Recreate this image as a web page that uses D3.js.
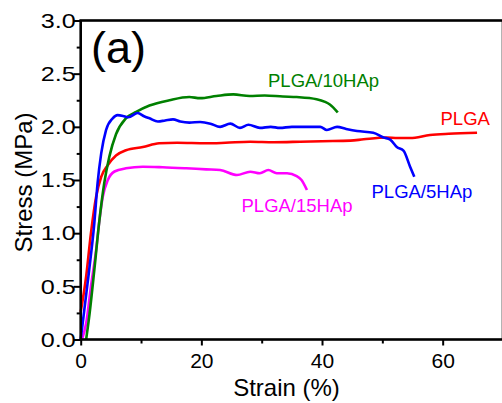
<!DOCTYPE html>
<html>
<head>
<meta charset="utf-8">
<script src="https://cdn.jsdelivr.net/npm/d3@7"></script>
<style>
  body { margin: 0; background: #fff; }
  svg { display: block; font-family: "Liberation Sans", Arial, sans-serif; }
</style>
</head>
<body>
<script>
'use strict';

// strain (%) / stress (MPa)
let plgaStrain = [0, 0.9, 1.7, 2.55, 3.4, 4.5, 5.85, 7.5, 10.3, 13, 16, 20.8, 24, 28.1, 32, 36.4, 40, 44.7, 46.9, 50.7, 52.5, 54.6, 57.9, 61, 65.7];
let plgaStress = [0.26, 0.59, 1.0, 1.34, 1.53, 1.64, 1.73, 1.78, 1.81, 1.845, 1.85, 1.845, 1.85, 1.86, 1.855, 1.86, 1.865, 1.87, 1.883, 1.9, 1.895, 1.895, 1.923, 1.935, 1.945];

let hap5Strain = [0, 0.6, 1.4, 2.25, 2.8, 3.4, 4.2, 5.3, 6.1, 7.2, 7.9, 9.45, 10.5, 11.4, 12.8, 14, 15.3, 16.5, 18, 19.8, 21.5, 23.1, 24.8, 26.4, 27.8, 29.7, 31.5, 33, 35, 37.5, 39.7, 40.8, 42.5, 44, 45.8, 48.5, 50.2, 51.3, 52.4, 53.5, 54.6, 55.3];
let hap5Stress = [0, 0.28, 0.65, 1.09, 1.47, 1.75, 1.97, 2.08, 2.11, 2.10, 2.09, 2.13, 2.10, 2.08, 2.05, 2.06, 2.07, 2.05, 2.04, 2.045, 2.03, 2.0, 2.03, 1.99, 2.02, 1.99, 2.0, 1.99, 2.0, 2.0, 2.0, 1.97, 2.0, 1.98, 1.96, 1.945, 1.9, 1.88, 1.81, 1.776, 1.625, 1.53];

let hap10Strain = [0.9, 1.4, 2.25, 3.1, 3.9, 4.75, 5.85, 7.5, 9.2, 11.4, 14.7, 18, 19.8, 22.5, 25.3, 28, 30.5, 33.5, 35.8, 39.1, 40.5, 41.3, 42.6];
let hap10Stress = [0, 0.21, 0.65, 1.12, 1.47, 1.72, 1.93, 2.08, 2.14, 2.2, 2.25, 2.28, 2.27, 2.29, 2.305, 2.29, 2.295, 2.285, 2.28, 2.26, 2.235, 2.21, 2.135];

let hap15Strain = [0.2, 0.9, 1.7, 2.55, 3.1, 3.65, 4.5, 5.6, 7.5, 10.3, 13.6, 17.5, 20.8, 23.1, 25.9, 28.1, 29.7, 31.1, 32.5, 34.2, 35.8, 36.6, 37.5];
let hap15Stress = [0, 0.15, 0.5, 0.84, 1.12, 1.34, 1.5, 1.58, 1.61, 1.625, 1.62, 1.61, 1.6, 1.594, 1.547, 1.578, 1.563, 1.594, 1.563, 1.563, 1.537, 1.5, 1.406];

let seriesNames = ['PLGA', 'PLGA/5HAp', 'PLGA/10HAp', 'PLGA/15HAp'];
let seriesColors = ['#ff0000', '#0000ff', '#008000', '#ff00ff'];

let xMajor = [0, 20, 40, 60];
let xMinor = [10, 30, 50];
let yMajor = [0, 0.5, 1.0, 1.5, 2.0, 2.5, 3.0];
let yMinor = [0.25, 0.75, 1.25, 1.75, 2.25, 2.75];

let width = 502;
let height = 403;

let svg = d3.select('body')
  .append('svg')
  .attr('width', width)
  .attr('height', height);

let xScale = d3.scaleLinear().domain([0, 70]).range([80.7, 503]);
let yScale = d3.scaleLinear().domain([0, 3]).range([339.5, 20.5]);

function pairs(xs, ys) {
  return xs.map((x, i) => [x, ys[i]]);
}

let allSeries = [
  pairs(plgaStrain, plgaStress),
  pairs(hap5Strain, hap5Stress),
  pairs(hap10Strain, hap10Stress),
  pairs(hap15Strain, hap15Stress)
];

let line = d3.line()
  .x(d => xScale(d[0]))
  .y(d => yScale(d[1]))
  .curve(d3.curveMonotoneX);

// draw order: red, magenta, green, blue on top
[0, 3, 2, 1].forEach(i => {
  svg.append('path')
    .datum(allSeries[i])
    .attr('d', line)
    .attr('fill', 'none')
    .attr('stroke', seriesColors[i])
    .attr('stroke-width', 2.6)
    .attr('stroke-linejoin', 'round');
});

// axes
let xAxis = svg.append('g')
  .attr('transform', 'translate(0,' + yScale(0) + ')')
  .call(d3.axisBottom(xScale).tickValues(xMajor).tickSize(6).tickPadding(8));
svg.append('g')
  .attr('transform', 'translate(0,' + yScale(0) + ')')
  .call(d3.axisBottom(xScale).tickValues(xMinor).tickSize(4).tickFormat(''));

let yAxis = svg.append('g')
  .attr('transform', 'translate(' + xScale(0) + ',0)')
  .call(d3.axisLeft(yScale).tickValues(yMajor).tickSize(7).tickFormat(d3.format('.1f')));
svg.append('g')
  .attr('transform', 'translate(' + xScale(0) + ',0)')
  .call(d3.axisLeft(yScale).tickValues(yMinor).tickSize(4).tickFormat(''));

svg.selectAll('.domain').remove();
svg.selectAll('.tick line').attr('stroke', '#000').attr('stroke-width', 2);
svg.selectAll('.tick text')
  .attr('fill', '#000')
  .style('font-size', '21px')
  .style('font-family', '"Liberation Sans", Arial, sans-serif');
yAxis.selectAll('.tick text')
  .attr('x', -5)
  .attr('textLength', 35)
  .attr('lengthAdjust', 'spacingAndGlyphs');

// frame
svg.append('rect')
  .attr('x', xScale(0))
  .attr('y', yScale(3))
  .attr('width', xScale(70) - xScale(0))
  .attr('height', yScale(0) - yScale(3))
  .attr('fill', 'none')
  .attr('stroke', '#000')
  .attr('stroke-width', 2.6);

// series labels
let labelPos = [[440.5, 125], [371.5, 198], [268, 86.5], [241.5, 211.5]];
seriesNames.forEach((name, i) => {
  svg.append('text')
    .attr('x', labelPos[i][0])
    .attr('y', labelPos[i][1])
    .attr('fill', seriesColors[i])
    .style('font-size', '18.5px')
    .text(name);
});

svg.append('text')
  .attr('x', 91)
  .attr('y', 63)
  .style('font-size', '45px')
  .text('(a)');

svg.append('text')
  .attr('x', 286.5)
  .attr('y', 395.5)
  .attr('text-anchor', 'middle')
  .style('font-size', '24px')
  .text('Strain (%)');

svg.append('text')
  .attr('transform', 'translate(31.5,182.5)rotate(-90)')
  .attr('text-anchor', 'middle')
  .style('font-size', '24px')
  .text('Stress (MPa)');
</script>
</body>
</html>
